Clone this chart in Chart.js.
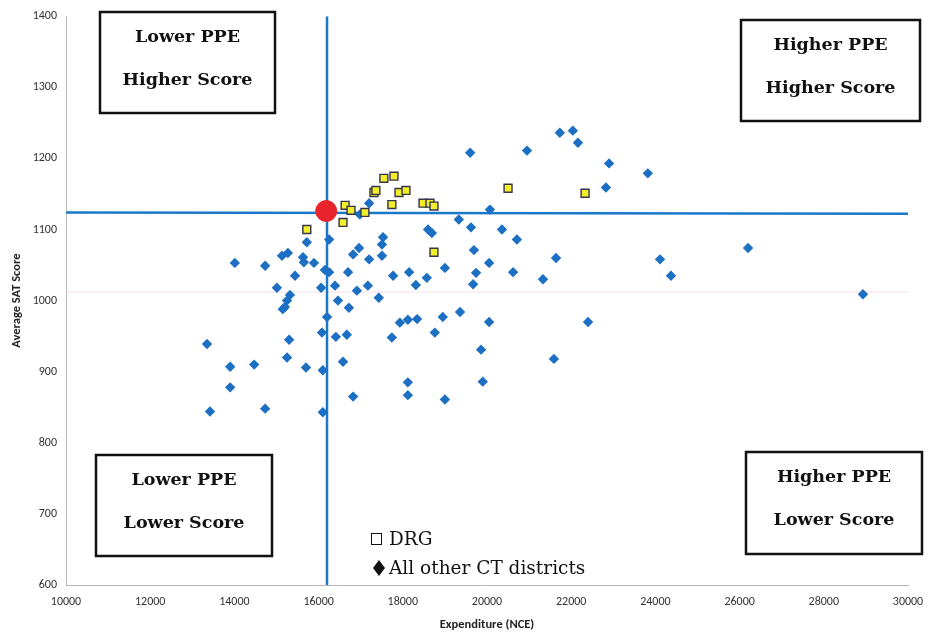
<!DOCTYPE html>
<html>
<head>
<meta charset="utf-8">
<script src="https://cdn.jsdelivr.net/npm/chart.js@4"></script>
<style>
  html, body { margin: 0; padding: 0; background: #fff; overflow: hidden; }
  #wrap { width: 929px; height: 635px; position: relative; }
</style>
</head>
<body>
<div id="wrap"><canvas id="chart"></canvas></div>
<script>
// other CT districts (expenditure, SAT)
const otherX = [19600, 20950, 21730, 22040, 22160, 22900, 23820, 22825, 20070, 17200, 16980, 19330,
  19620, 20355, 20710, 19690, 19000, 20050, 19740, 20620, 21640, 21330, 24110, 24370, 26200, 28930,
  19670, 18950, 19360, 20050, 22400, 19860, 21590, 19900, 19000, 18600, 18690, 15720, 16250, 17530,
  17505, 14010, 14730, 15130, 15270, 15630, 15650, 15890, 15440, 16250, 16150, 16700, 16820, 16960,
  17200, 17505, 17770, 18150, 18310, 18570, 15010, 16060, 16390, 16910, 17170, 17430, 15320, 15250,
  15200, 15150, 16460, 16720, 16200, 17930, 18120, 18340, 18760, 17740, 16080, 16410, 16670, 13350,
  15300, 13900, 14470, 15250, 15700, 16580, 16100, 13900, 18120, 18120, 16820, 13420, 14730, 16100];
const otherY = [1208, 1211, 1236, 1239, 1222, 1193, 1179, 1159, 1128, 1137, 1121, 1114,
  1103, 1100, 1086, 1071, 1046, 1053, 1039, 1040, 1060, 1030, 1058, 1035, 1074, 1009,
  1023, 977, 984, 970, 970, 931, 918, 886, 861, 1100, 1095, 1082, 1086, 1089,
  1079, 1053, 1049, 1063, 1067, 1061, 1054, 1053, 1035, 1040, 1043, 1040, 1065, 1074,
  1058, 1063, 1035, 1040, 1022, 1032, 1018, 1018, 1021, 1014, 1021, 1004, 1008, 1000,
  991, 988, 1000, 990, 977, 969, 973, 974, 955, 948, 955, 949, 952, 939,
  945, 907, 910, 920, 906, 914, 902, 878, 885, 867, 865, 844, 848, 843];

// DRG districts
const drgX = [17550, 17790, 17315, 17360, 17910, 18075, 17740, 18480, 18645, 18740, 16630, 16770,
  17100, 16580, 15720, 18740, 20500, 22330];
const drgY = [1172, 1175, 1152, 1155, 1152, 1155, 1135, 1137, 1137, 1133, 1134, 1127,
  1124, 1110, 1100, 1068, 1158, 1151];

// highlighted district
const focusX = [16180];
const focusY = [1126];

// reference lines
const avgSpend = 16200;
const avgScoreLeft = 1124;
const avgScoreRight = 1122;
const pinkLineY = 1012;

const xTicks = [10000, 12000, 14000, 16000, 18000, 20000, 22000, 24000, 26000, 28000, 30000];
const yTicks = [600, 700, 800, 900, 1000, 1100, 1200, 1300, 1400];

const quadrants = [
  { box: [100, 12, 175, 101], lines: ["Lower PPE", "Higher Score"] },
  { box: [741, 20, 179, 101], lines: ["Higher PPE", "Higher Score"] },
  { box: [96, 455, 176, 101], lines: ["Lower PPE", "Lower Score"] },
  { box: [746, 452, 176, 102], lines: ["Higher PPE", "Lower Score"] },
];

const toPts = (xs, ys) => xs.map((x, i) => ({ x: x, y: ys[i] }));

const blue = "#1c6fc2";
const lineBlue = "#1b78c8";
const sans = "Carlito, 'Liberation Sans Narrow', 'Liberation Sans', sans-serif";
const tickFont = { family: sans, size: 12 };
const serif = "'DejaVu Serif', 'Liberation Serif', serif";

const overlay = {
  id: "overlay",
  afterDraw(chart) {
    const c = chart.ctx;
    c.save();
    quadrants.forEach((q) => {
      const [x, y, w, h] = q.box;
      c.strokeStyle = "#111";
      c.lineWidth = 2.5;
      c.fillStyle = "#fff";
      c.fillRect(x, y, w, h);
      c.strokeRect(x, y, w, h);
      c.fillStyle = "#111";
      c.font = "bold 17.5px " + serif;
      c.textAlign = "center";
      c.textBaseline = "middle";
      c.fillText(q.lines[0], x + w / 2, y + 25);
      c.fillText(q.lines[1], x + w / 2, y + 68);
    });
    // legend
    c.fillStyle = "#111";
    c.strokeStyle = "#111";
    c.lineWidth = 1;
    c.strokeRect(371.5, 533.5, 10, 11);
    c.beginPath();
    c.moveTo(379, 560);
    c.lineTo(385, 568);
    c.lineTo(379, 576);
    c.lineTo(373, 568);
    c.closePath();
    c.fill();
    c.font = "18.5px " + serif;
    c.textAlign = "left";
    c.textBaseline = "middle";
    c.fillText("DRG", 389, 540);
    c.fillText("All other CT districts", 389, 569);
    c.restore();
  },
};

new Chart(document.getElementById("chart"), {
  type: "scatter",
  data: {
    datasets: [
      {
        label: "highlight",
        data: toPts(focusX, focusY),
        pointStyle: "circle",
        pointRadius: 10.5,
        backgroundColor: "#e8232b",
        borderColor: "#e8232b",
        order: 0,
      },
      {
        label: "DRG",
        data: toPts(drgX, drgY),
        pointStyle: "rect",
        pointRadius: 5.6,
        backgroundColor: "#f2ee2a",
        borderColor: "#34344f",
        borderWidth: 1.4,
        order: 1,
      },
      {
        label: "All other CT districts",
        data: toPts(otherX, otherY),
        pointStyle: "rectRot",
        pointRadius: 5.2,
        backgroundColor: blue,
        borderColor: blue,
        borderWidth: 0,
        order: 2,
      },
      {
        label: "avg spend",
        data: [{ x: avgSpend, y: 600 }, { x: avgSpend, y: 1400 }],
        showLine: true,
        borderColor: lineBlue,
        borderWidth: 2.5,
        pointRadius: 0,
        order: 3,
      },
      {
        label: "avg score",
        data: [{ x: 10000, y: avgScoreLeft }, { x: 30000, y: avgScoreRight }],
        showLine: true,
        borderColor: lineBlue,
        borderWidth: 2.5,
        pointRadius: 0,
        order: 3,
      },
      {
        label: "faint",
        data: [{ x: 10000, y: pinkLineY }, { x: 30000, y: pinkLineY }],
        showLine: true,
        borderColor: "rgba(240,200,225,0.6)",
        borderWidth: 1,
        pointRadius: 0,
        order: 4,
      },
    ],
  },
  options: {
    responsive: true,
    maintainAspectRatio: false,
    animation: false,
    layout: { padding: { top: 14, right: 21, bottom: 0, left: 0 } },
    plugins: { legend: { display: false }, tooltip: { enabled: false } },
    scales: {
      x: {
        type: "linear",
        min: 10000,
        max: 30000,
        afterBuildTicks: (axis) => { axis.ticks = xTicks.map((v) => ({ value: v })); },
        afterFit: (axis) => { axis.height = 50; axis.paddingLeft = 0; axis.paddingRight = 0; },
        grid: { display: false, drawTicks: false },
        border: { display: true, color: "#b8b8b8", width: 1 },
        ticks: { color: "#333", font: tickFont, padding: 10, maxRotation: 0, callback: (v) => String(v) },
        title: {
          display: true,
          text: "Expenditure (NCE)",
          color: "#222",
          font: { family: sans, size: 12.5, weight: "bold" },
          padding: { top: 2, bottom: 3 },
        },
      },
      y: {
        type: "linear",
        min: 600,
        max: 1400,
        afterBuildTicks: (axis) => { axis.ticks = yTicks.map((v) => ({ value: v })); },
        afterFit: (axis) => { axis.width = 66; },
        grid: { display: false, drawTicks: false },
        border: { display: true, color: "#b8b8b8", width: 1 },
        ticks: { color: "#333", font: tickFont, padding: 9, callback: (v) => String(v) },
        title: {
          display: true,
          text: "Average SAT Score",
          color: "#222",
          font: { family: sans, size: 12.5, weight: "bold" },
          padding: { top: 9, bottom: 0 },
        },
      },
    },
  },
  plugins: [overlay],
});
</script>
</body>
</html>
